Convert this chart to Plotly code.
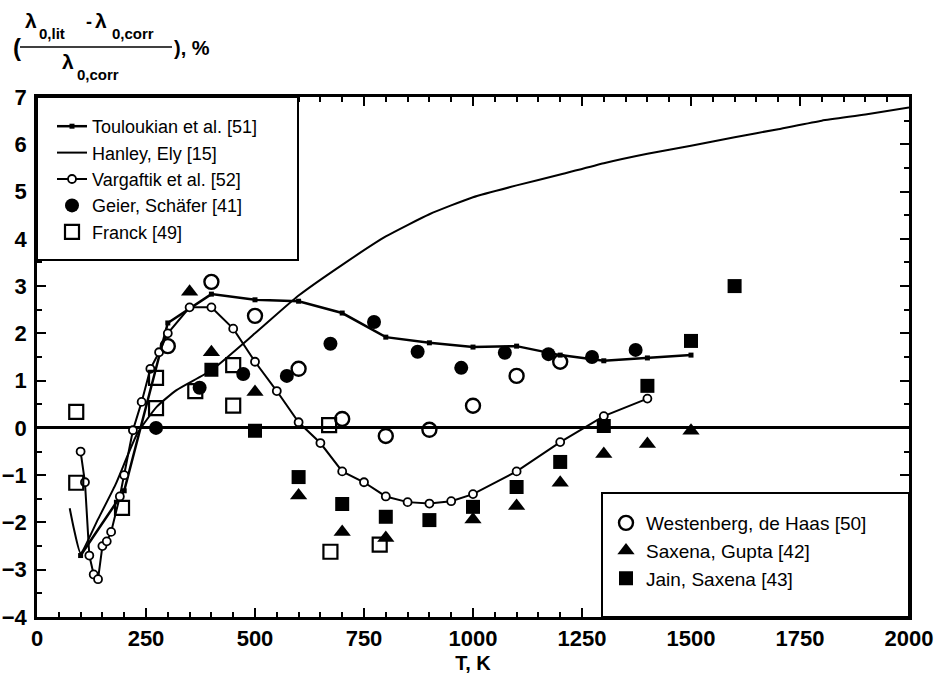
import plotly.graph_objects as go

FONT = "Liberation Sans, Arial, Helvetica, sans-serif"

# ---- data: relative deviation (%) of literature values from the correlation ----
# Touloukian et al. [51]
toul_T = [100, 200, 300, 400, 500, 600, 700, 800, 900, 1000, 1100, 1200, 1300, 1400, 1500]
toul_v = [-2.7, -1.33, 2.22, 2.83, 2.71, 2.68, 2.43, 1.92, 1.8, 1.71, 1.73, 1.54, 1.42, 1.48, 1.54]

# Hanley, Ely [15]
hanl_T = [75, 85, 100, 140, 180, 230, 275, 320, 400, 500, 600, 700, 800, 900, 1000,
          1100, 1200, 1300, 1400, 1500, 1600, 1700, 1800, 1900, 2000]
hanl_v = [-1.7, -2.15, -2.65, -1.93, -1.2, -0.12, 0.45, 0.8, 1.22, 2.0, 2.8, 3.45, 4.05,
          4.52, 4.88, 5.13, 5.36, 5.6, 5.8, 5.97, 6.15, 6.32, 6.5, 6.63, 6.78]

# Vargaftik et al. [52]
varg_T = [100, 110, 120, 130, 140, 150, 160, 170, 190, 200, 220, 240, 260, 280, 300,
          350, 400, 450, 500, 550, 600, 650, 700, 750, 800, 850, 900, 950, 1000,
          1100, 1200, 1300, 1400]
varg_v = [-0.5, -1.15, -2.7, -3.1, -3.2, -2.5, -2.4, -2.2, -1.45, -1.0, -0.05, 0.55,
          1.25, 1.6, 2.0, 2.55, 2.55, 2.1, 1.4, 0.78, 0.12, -0.32, -0.92, -1.15, -1.45,
          -1.57, -1.6, -1.55, -1.4, -0.92, -0.3, 0.25, 0.62]

# Geier, Schäfer [41]
geier_T = [273, 373, 473, 573, 673, 773, 873, 973, 1073, 1173, 1273, 1373]
geier_v = [0.0, 0.85, 1.14, 1.1, 1.78, 2.24, 1.61, 1.27, 1.59, 1.56, 1.5, 1.65]

# Franck [49]
franck_T = [90, 90, 195, 273, 273, 363, 450, 450, 670, 673, 786]
franck_v = [0.34, -1.16, -1.69, 1.06, 0.42, 0.78, 1.33, 0.47, 0.06, -2.62, -2.47]

# Westenberg, de Haas [50]
west_T = [300, 400, 500, 600, 700, 800, 900, 1000, 1100, 1200]
west_v = [1.73, 3.09, 2.37, 1.25, 0.19, -0.17, -0.04, 0.47, 1.1, 1.4]

# Saxena, Gupta [42]
saxg_T = [350, 400, 500, 600, 700, 800, 1000, 1100, 1200, 1300, 1400, 1500]
saxg_v = [2.88, 1.6, 0.76, -1.43, -2.2, -2.33, -1.94, -1.65, -1.16, -0.55, -0.34, -0.06]

# Jain, Saxena [43]
jain_T = [400, 500, 600, 700, 800, 900, 1000, 1100, 1200, 1300, 1400, 1500, 1600]
jain_v = [1.23, -0.06, -1.04, -1.61, -1.88, -1.95, -1.67, -1.25, -0.72, 0.04, 0.89, 1.84, 3.0]

x_ticks = [0, 250, 500, 750, 1000, 1250, 1500, 1750, 2000]
y_ticks = [-4, -3, -2, -1, 0, 1, 2, 3, 4, 5, 6, 7]

# ---- page geometry (pixels) ----
W, H = 941, 682
ML, MR, MT, MB = 37, 32, 97, 65
PW = W - ML - MR
PH = H - MT - MB


def fx(p):
    return (p - ML) / PW


def fy(p):
    return (H - MB - p) / PH


fig = go.Figure()

fig.add_trace(go.Scatter(
    x=toul_T, y=toul_v, mode="lines+markers", name="Touloukian et al. [51]",
    line=dict(color="black", width=2.5),
    marker=dict(symbol="square", size=5, color="black"),
))
fig.add_trace(go.Scatter(
    x=hanl_T, y=hanl_v, mode="lines", name="Hanley, Ely [15]",
    line=dict(color="black", width=2, shape="spline", smoothing=0.5),
))
fig.add_trace(go.Scatter(
    x=varg_T, y=varg_v, mode="lines+markers", name="Vargaftik et al. [52]",
    line=dict(color="black", width=2),
    marker=dict(symbol="circle", size=8, color="white", line=dict(color="black", width=1.8)),
))
fig.add_trace(go.Scatter(
    x=geier_T, y=geier_v, mode="markers", name="Geier, Schäfer [41]",
    marker=dict(symbol="circle", size=14, color="black"),
))
fig.add_trace(go.Scatter(
    x=franck_T, y=franck_v, mode="markers", name="Franck [49]",
    marker=dict(symbol="square-open", size=14, color="black", line=dict(width=2.2)),
))
fig.add_trace(go.Scatter(
    x=west_T, y=west_v, mode="markers", name="Westenberg, de Haas [50]", legend="legend2",
    marker=dict(symbol="circle-open", size=14, color="black", line=dict(width=2.4)),
))
fig.add_trace(go.Scatter(
    x=saxg_T, y=saxg_v, mode="markers", name="Saxena, Gupta [42]", legend="legend2",
    marker=dict(symbol="triangle-up", size=15, color="black"),
))
fig.add_trace(go.Scatter(
    x=jain_T, y=jain_v, mode="markers", name="Jain, Saxena [43]", legend="legend2",
    marker=dict(symbol="square", size=14, color="black"),
))

axis_common = dict(
    showgrid=False, showline=True, linecolor="black", linewidth=2.5,
    mirror="allticks", ticks="inside", tickcolor="black", tickwidth=2, ticklen=9,
    automargin=False,
    tickfont=dict(family=FONT, size=22, color="black", weight="bold"),
)

fig.update_xaxes(
    range=[0, 2000], tickvals=x_ticks, zeroline=False,
    minor=dict(dtick=50, ticks="inside", ticklen=5, tickwidth=1.5, tickcolor="black", showgrid=False),
    title=dict(text="T, K", font=dict(family=FONT, size=20, color="black", weight="bold"), standoff=6),
    **axis_common,
)
fig.update_yaxes(
    range=[-4, 7], tickvals=y_ticks, zeroline=True, zerolinecolor="black", zerolinewidth=2.5,
    minor=dict(dtick=0.5, ticks="inside", ticklen=5, tickwidth=1.5, tickcolor="black", showgrid=False),
    ticklabelstandoff=3,
    **axis_common,
)

legend_font = dict(family=FONT, size=18, color="black")
fig.update_layout(
    width=W, height=H,
    margin=dict(l=ML, r=MR, t=MT, b=MB, pad=0, autoexpand=False),
    paper_bgcolor="white", plot_bgcolor="white",
    font=dict(family=FONT, color="black"),
    legend=dict(x=fx(52), y=fy(108), xanchor="left", yanchor="top", font=legend_font,
                bgcolor="rgba(0,0,0,0)", borderwidth=0, tracegroupgap=0),
    legend2=dict(x=fx(606), y=fy(504), xanchor="left", yanchor="top",
                 font=dict(family=FONT, size=19, color="black"),
                 bgcolor="rgba(0,0,0,0)", borderwidth=0, tracegroupgap=0),
    showlegend=True,
)

# legend frames
fig.add_shape(type="rect", xref="paper", yref="paper",
              x0=fx(37), x1=fx(298), y0=fy(260), y1=fy(97),
              line=dict(color="black", width=2), fillcolor="white", layer="above")
fig.add_shape(type="rect", xref="paper", yref="paper",
              x0=fx(602), x1=fx(909), y0=fy(617), y1=fy(493),
              line=dict(color="black", width=2), fillcolor="white", layer="above")

# y-axis title written as a fraction above the axis
def label(text, x, y, size, xanchor="center"):
    fig.add_annotation(text=text, x=fx(x), y=fy(y), xref="paper", yref="paper",
                       showarrow=False, xanchor=xanchor, yanchor="middle",
                       font=dict(family=FONT, size=size, color="black", weight="bold"))

label("(", 17, 48, 24)
label("λ", 31, 20, 21)
label("0,lit", 37, 34, 15, "left")
label("-", 89, 22, 18)
label("λ", 101, 20, 21)
label("0,corr", 110, 34, 15, "left")
label("λ", 68, 61, 21)
label("0,corr", 75, 75, 15, "left")
label("), %", 172, 48, 20, "left")
fig.add_shape(type="line", xref="paper", yref="paper",
              x0=fx(20), x1=fx(172), y0=fy(47), y1=fy(47),
              line=dict(color="black", width=1.5))

fig.write_html("out.html")
